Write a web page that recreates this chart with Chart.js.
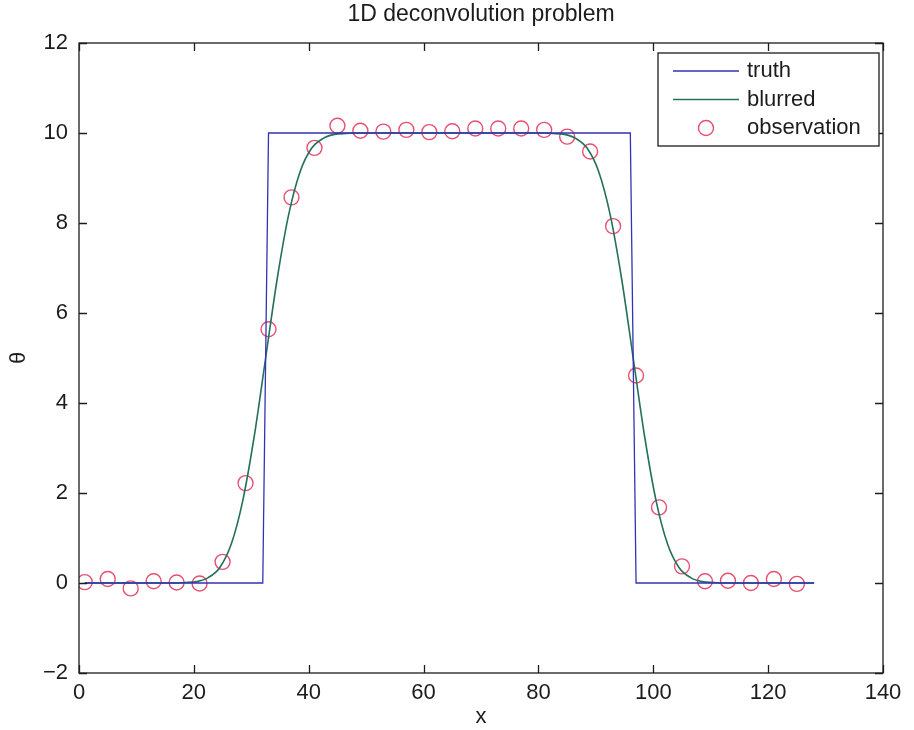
<!DOCTYPE html>
<html>
<head>
<meta charset="utf-8">
<title>1D deconvolution problem</title>
<script src="https://cdn.jsdelivr.net/npm/chart.js@4"></script>
<style>
  html, body { margin: 0; padding: 0; background: #fff; }
  #wrap { width: 914px; height: 730px; }
</style>
</head>
<body>
<div id="wrap"><canvas id="deconvChart"></canvas></div>
<script>
// Axis ticks
const xTicks = [0, 20, 40, 60, 80, 100, 120, 140];
const yTicks = [-2, 0, 2, 4, 6, 8, 10, 12];

// True signal (box step)
const truthX = [1, 32, 33, 96, 97, 128];
const truthY = [0, 0, 10, 10, 0, 0];

// Blurred signal, sampled along the curve
const blurX = [1, 16.5, 18.5, 20.5, 22.5, 24.5, 26.5, 28.5, 30.5, 32.5, 34.5, 36.5, 38.5, 40.5, 42.5, 44.5, 46.5, 48.5,
               80.5, 82.5, 84.5, 86.5, 88.5, 90.5, 92.5, 94.5, 96.5, 98.5, 100.5, 102.5, 104.5, 106.5, 108.5, 110.5, 112.5, 128];
const blurY = [0, 0, 0.01, 0.03, 0.12, 0.34, 0.86, 1.82, 3.25, 5.0, 6.75, 8.18, 9.14, 9.66, 9.88, 9.97, 9.99, 10,
               10, 9.99, 9.97, 9.88, 9.66, 9.14, 8.18, 6.75, 5.0, 3.25, 1.82, 0.86, 0.34, 0.12, 0.03, 0.01, 0, 0];

// Noisy observations
const obsX = [1, 5, 9, 13, 17, 21, 25, 29, 33, 37, 41, 45, 49, 53, 57, 61,
              65, 69, 73, 77, 81, 85, 89, 93, 97, 101, 105, 109, 113, 117, 121, 125];
const obsY = [0.02, 0.09, -0.12, 0.04, 0.01, -0.01, 0.47, 2.22, 5.64, 8.57, 9.67, 10.16, 10.05, 10.03, 10.07, 10.02,
              10.04, 10.1, 10.1, 10.1, 10.07, 9.92, 9.59, 7.93, 4.61, 1.68, 0.37, 0.04, 0.05, 0.0, 0.09, -0.02];

const TRUTH_COLOR = '#3232b4';
const BLUR_COLOR = '#24705c';
const OBS_COLOR = '#e6506e';
const FONT = '"Liberation Sans", Arial, sans-serif';
const INK = '#1c1c1c';

const zip = (xs, ys) => xs.map((x, i) => ({ x: x, y: ys[i] }));
const minus = v => String(v).replace('-', '\u2212');

// box around the axes, inward ticks, title and legend
const frame = {
  id: 'frame',
  afterDraw(chart) {
    const { ctx, chartArea: a, scales } = chart;
    const tick = 8;
    ctx.save();
    ctx.strokeStyle = INK;
    ctx.lineWidth = 1.3;
    ctx.strokeRect(a.left, a.top, a.right - a.left, a.bottom - a.top);

    ctx.beginPath();
    xTicks.forEach(v => {
      const px = Math.round(scales.x.getPixelForValue(v)) + 0.5;
      ctx.moveTo(px, a.bottom); ctx.lineTo(px, a.bottom - tick);
      ctx.moveTo(px, a.top); ctx.lineTo(px, a.top + tick);
    });
    yTicks.forEach(v => {
      const py = Math.round(scales.y.getPixelForValue(v)) + 0.5;
      ctx.moveTo(a.left, py); ctx.lineTo(a.left + tick, py);
      ctx.moveTo(a.right, py); ctx.lineTo(a.right - tick, py);
    });
    ctx.stroke();

    // title
    ctx.fillStyle = INK;
    ctx.font = '23px ' + FONT;
    ctx.textAlign = 'center';
    ctx.textBaseline = 'middle';
    ctx.fillText('1D deconvolution problem', (a.left + a.right) / 2, 15);

    // legend
    const bw = 221, bh = 93;
    const bx = a.right - 4 - bw, by = a.top + 10;
    ctx.fillStyle = '#fff';
    ctx.fillRect(bx, by, bw, bh);
    ctx.lineWidth = 1.3;
    ctx.strokeStyle = INK;
    ctx.strokeRect(bx, by, bw, bh);
    ctx.font = '22px ' + FONT;
    ctx.textAlign = 'left';
    chart.data.datasets.forEach((ds, i) => {
      const ry = by + 18 + i * 28.5;
      if (ds.showLine === false) {
        ctx.beginPath();
        ctx.arc(bx + 48, ry, ds.pointRadius, 0, Math.PI * 2);
        ctx.strokeStyle = ds.pointBorderColor;
        ctx.lineWidth = ds.pointBorderWidth;
        ctx.stroke();
      } else {
        ctx.beginPath();
        ctx.moveTo(bx + 15, ry); ctx.lineTo(bx + 81, ry);
        ctx.strokeStyle = ds.borderColor;
        ctx.lineWidth = ds.borderWidth;
        ctx.stroke();
      }
      ctx.fillStyle = INK;
      ctx.fillText(ds.label, bx + 89, ry);
    });
    ctx.restore();
  }
};

window.addEventListener('DOMContentLoaded', () => {
  const ctx = document.getElementById('deconvChart').getContext('2d');
  new Chart(ctx, {
    type: 'scatter',
    data: {
      datasets: [
        {
          label: 'truth',
          data: zip(truthX, truthY),
          showLine: true,
          borderColor: TRUTH_COLOR,
          borderWidth: 1.3,
          pointRadius: 0,
          tension: 0
        },
        {
          label: 'blurred',
          data: zip(blurX, blurY),
          showLine: true,
          borderColor: BLUR_COLOR,
          borderWidth: 1.6,
          pointRadius: 0,
          cubicInterpolationMode: 'monotone'
        },
        {
          label: 'observation',
          data: zip(obsX, obsY),
          showLine: false,
          pointStyle: 'circle',
          pointRadius: 7.5,
          pointBorderWidth: 1.4,
          pointBorderColor: OBS_COLOR,
          pointBackgroundColor: 'rgba(0,0,0,0)'
        }
      ]
    },
    options: {
      responsive: true,
      maintainAspectRatio: false,
      animation: false,
      layout: { padding: { top: 43, right: 31, left: 0, bottom: 0 } },
      plugins: {
        legend: { display: false },
        title: { display: false },
        tooltip: { enabled: false }
      },
      scales: {
        x: {
          type: 'linear',
          min: 0,
          max: 140,
          afterBuildTicks: s => { s.ticks = xTicks.map(v => ({ value: v })); },
          afterFit: s => { s.height = 57; },
          grid: { display: false, drawTicks: false },
          border: { display: false },
          ticks: { color: INK, font: { family: FONT, size: 22 }, padding: 7, maxRotation: 0, callback: minus },
          title: { display: true, text: 'x', color: INK, font: { family: FONT, size: 22 }, padding: { top: 0, bottom: 0 } }
        },
        y: {
          type: 'linear',
          min: -2,
          max: 12,
          afterBuildTicks: s => { s.ticks = yTicks.map(v => ({ value: v })); },
          afterFit: s => { s.width = 79; },
          grid: { display: false, drawTicks: false },
          border: { display: false },
          ticks: { color: INK, font: { family: FONT, size: 22 }, padding: 11, callback: minus },
          title: { display: true, text: '\u03b8', color: INK, font: { family: FONT, size: 22 }, padding: { top: 6, bottom: 0 } }
        }
      }
    },
    plugins: [frame]
  });
});
</script>
</body>
</html>
